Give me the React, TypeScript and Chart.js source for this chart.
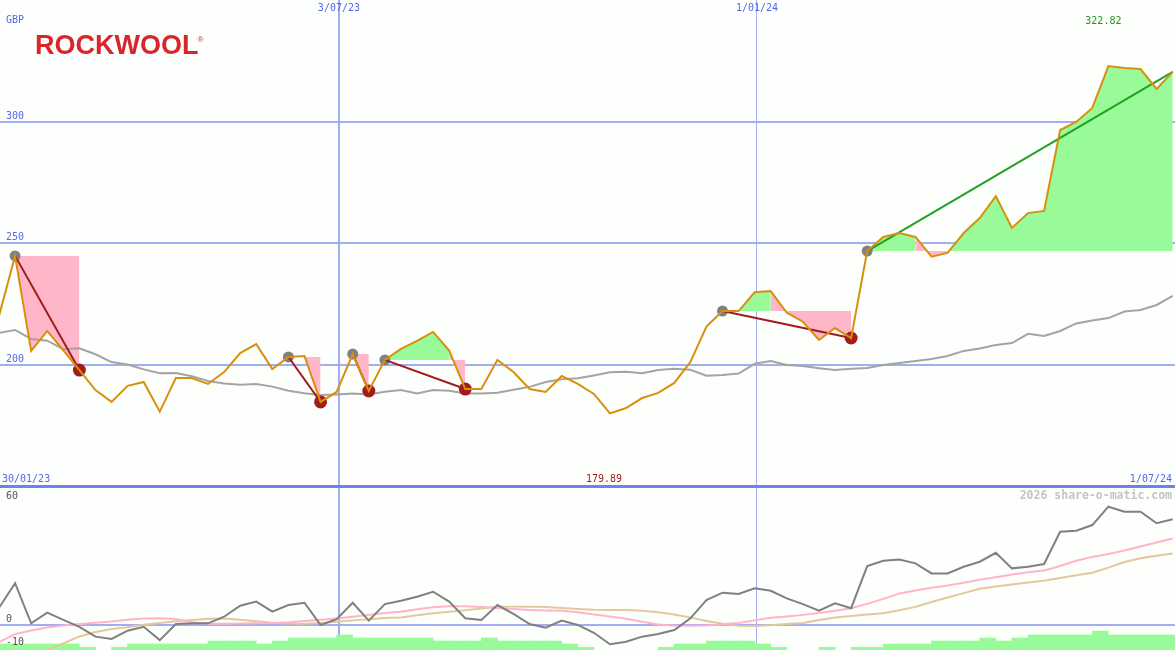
import React, { useEffect, useRef } from 'react';
import { Chart, registerables } from 'chart.js';

Chart.register(...registerables);

// ---------- data ----------
const START_LABEL = '30/01/23';
const END_LABEL = '1/07/24';
const WEEK = 7; // days between points (first point: Sun 5/02/23)

const price = [
  220.0, 244.7, 205.6, 213.8, 205.8, 197.7, 189.5, 184.6, 191.2, 192.8,
  180.6, 194.4, 194.4, 192.0, 196.9, 204.7, 208.4, 198.1, 203.1, 203.5,
  184.6, 188.7, 204.3, 189.1, 201.9, 206.4, 209.7, 213.4, 205.7, 189.9,
  189.9, 201.9, 196.9, 189.9, 188.7, 195.3, 192.0, 187.9, 179.89, 182.1,
  186.2, 188.3, 192.4, 201.0, 215.6, 222.0, 222.0, 229.7, 230.2, 221.3,
  217.6, 210.1, 215.0, 210.9, 246.7, 252.5, 254.1, 252.5, 244.4, 245.9,
  254.1, 260.3, 269.3, 256.2, 262.3, 263.2, 296.5, 299.8, 305.6, 322.82,
  322.0, 321.6, 313.4, 320.4,
];

const average = [
  213.0, 214.2, 210.5, 209.8, 206.3, 206.7, 204.2, 201.0, 200.0, 198.0,
  196.4, 196.5, 195.2, 193.2, 192.2, 191.7, 192.0, 190.9, 189.2, 188.2,
  187.4, 187.7, 188.1, 187.7, 188.8, 189.5, 188.1, 189.5, 189.2, 188.1,
  188.1, 188.4, 189.6, 190.8, 192.8, 193.9, 194.3, 195.5, 196.8, 197.0,
  196.4, 197.7, 198.3, 197.8, 195.4, 195.7, 196.3, 200.3, 201.4, 199.8,
  199.4, 198.5, 197.7, 198.3, 198.6, 199.8, 200.6, 201.4, 202.3, 203.5,
  205.6, 206.6, 208.0, 208.8, 212.6, 211.7, 213.8, 216.9, 218.1, 219.1,
  221.8, 222.4, 224.5, 228.2,
];

const momentum = [
  7.3, 18.0, 0.5, 5.2, 2.0, -1.0, -5.3, -6.3, -2.7, -1.0,
  -6.8, 0.2, 0.5, 0.5, 3.4, 8.2, 10.0, 5.6, 8.5, 9.5,
  -0.2, 2.3, 9.5, 1.7, 8.9, 10.4, 12.1, 14.3, 10.0, 2.7,
  2.0, 8.5, 4.6, 0.2, -1.4, 1.7, -0.2, -3.6, -8.6, -7.5,
  -5.3, -4.1, -2.4, 2.7, 10.7, 13.9, 13.3, 15.8, 14.7, 11.4,
  8.9, 6.0, 9.2, 7.1, 25.5, 27.8, 28.4, 26.7, 22.3, 22.3,
  25.2, 27.4, 31.3, 24.5, 25.2, 26.4, 40.5, 40.9, 43.4, 51.4,
  49.2, 49.2, 44.2, 45.9,
];

const signalFast = [
  -7.7, -4.2, -2.6, -1.3, -0.4, 0.2, 0.8, 1.3, 2.1, 2.6,
  2.7, 2.4, 1.0, 0.3, 0.3, 0.4, 0.5, 0.7, 1.0, 1.5,
  2.1, 2.6, 3.4, 4.2, 5.0, 5.6, 6.7, 7.5, 8.0, 8.0,
  7.6, 7.2, 6.8, 6.3, 6.1, 6.0, 5.3, 4.4, 3.5, 2.5,
  1.2, 0.0, -0.5, -0.5, -0.4, 0.1, 0.7, 1.8, 2.9, 3.5,
  4.2, 5.0, 6.0, 7.1, 9.0, 11.2, 13.5, 14.8, 16.0, 17.0,
  18.2, 19.5, 20.6, 21.8, 22.8, 23.6, 25.5, 27.8, 29.5, 30.8,
  32.3, 34.0, 35.8, 37.5,
];

const signalSlow = [
  null, null, -15.0, -11.0, -8.3, -5.2, -3.3, -2.0, -1.2, -0.1,
  0.7, 1.4, 2.0, 2.5, 2.6, 2.1, 1.4, 0.8, 0.4, 0.3,
  0.7, 1.2, 1.8, 2.3, 2.8, 3.1, 4.0, 4.9, 5.6, 6.2,
  7.0, 7.7, 7.8, 7.8, 7.6, 7.2, 6.8, 6.4, 6.3, 6.3,
  6.0, 5.3, 4.4, 3.1, 1.5, 0.3, -0.5, -0.7, -0.3, 0.2,
  0.7, 2.0, 3.1, 3.7, 4.4, 4.9, 6.2, 7.7, 9.8, 11.8,
  13.7, 15.6, 16.6, 17.5, 18.3, 19.1, 20.3, 21.5, 22.6, 24.8,
  27.3, 28.9, 30.0, 31.0,
];

const volume = [
  2, 2, 2, 2, 2, 0.9, 0, 0.9, 2, 2,
  2, 2, 2, 3, 3, 3, 2, 3, 4, 4,
  4, 5, 4, 4, 4, 4, 4, 3, 3, 3,
  4, 3, 3, 3, 3, 2, 0.9, 0, 0, 0,
  0, 0.9, 2, 2, 3, 3, 3, 2, 0.9, 0,
  0, 0.9, 0, 0.9, 0.9, 2, 2, 2, 3, 3,
  3, 4, 3, 4, 5, 5, 5, 5, 6.3, 5,
  5, 5, 5, 5,
];

const peaks = [1, 18, 22, 24, 45, 54];
const troughs = [5, 20, 23, 29, 53];
const trends: [number, number][] = [[1, 5], [18, 20], [22, 23], [24, 29], [45, 53], [54, 73]];

const xTickDays = [148, 330];
const xTickLabels = ['3/07/23', '1/01/24'];
const mainYTicks = [200, 250, 300];
const lowerYTicks = [60, 0, -10];
const X_MIN = 0.435;
const X_MAX = 512;

// ---------- style ----------
const BLUE_TEXT = '#5566ee';
const GRID = '#a2adf2';
const SEPARATOR = '#7080ee';
const ORANGE = '#d8900c';
const GREY_AVG = '#a4a4a4';
const DARK_RED = '#a01c1c';
const GREEN_LINE = '#22a022';
const FILL_GREEN = '#98fa98';
const FILL_PINK = '#ffb6c8';
const MONO = '"DejaVu Sans Mono", monospace';

const xs = price.map((_, i) => i * WEEK);
const toPts = (arr: (number | null)[]) =>
  arr.map((y, i) => (y == null ? null : { x: xs[i], y })).filter(Boolean) as { x: number; y: number }[];

function buildFills() {
  const out: any[] = [];
  trends.forEach(([s, e]) => {
    const level = price[s];
    let runStart = s;
    let runColor: string | null = null;
    for (let k = s; k < e; k++) {
      const c = price[k + 1] >= level ? FILL_GREEN : FILL_PINK;
      if (runColor === null) runColor = c;
      else if (c !== runColor) {
        out.push({ a: runStart, b: k, color: runColor, level });
        runStart = k;
        runColor = c;
      }
    }
    out.push({ a: runStart, b: e, color: runColor, level });
  });
  return out.map((r) => {
    const data: { x: number; y: number }[] = [];
    for (let i = r.a; i <= r.b; i++) data.push({ x: xs[i], y: price[i] });
    return {
      type: 'line',
      data,
      borderWidth: 0,
      borderColor: 'rgba(0,0,0,0)',
      backgroundColor: r.color,
      pointRadius: 0,
      tension: 0,
      fill: { value: r.level },
      order: 4,
    };
  });
}

const xScale = (ticks: number[], widths: number[]) => ({
  type: 'linear',
  min: X_MIN,
  max: X_MAX,
  offset: false,
  afterBuildTicks: (axis: any) => {
    axis.ticks = ticks.map((v) => ({ value: v }));
  },
  ticks: { display: false },
  border: { display: false },
  grid: {
    offset: false,
    drawTicks: false,
    color: GRID,
    lineWidth: (c: any) => widths[ticks.indexOf(c.tick?.value)] ?? 1,
  },
});

const mainTextPlugin = {
  id: 'mainText',
  afterDraw(chart: any) {
    const { ctx, scales } = chart;
    const x = scales.x;
    const y = scales.y;
    ctx.save();
    ctx.textBaseline = 'middle';
    ctx.font = `10px ${MONO}`;
    ctx.fillStyle = BLUE_TEXT;
    ctx.textAlign = 'left';
    ctx.fillText('GBP', 6, 20);
    mainYTicks.forEach((v) => ctx.fillText(String(v), 6, y.getPixelForValue(v) - 5.5));
    ctx.fillText(START_LABEL, 2, 479);
    ctx.textAlign = 'right';
    ctx.fillText(END_LABEL, 1172, 479);
    ctx.textAlign = 'center';
    xTickDays.forEach((d, k) => ctx.fillText(xTickLabels[k], x.getPixelForValue(d), 8));

    const maxV = Math.max(...price);
    const minV = Math.min(...price);
    const maxI = price.indexOf(maxV);
    const minI = price.indexOf(minV);
    ctx.fillStyle = '#229922';
    ctx.fillText(maxV.toFixed(2), x.getPixelForValue(xs[maxI]) - 5, 21);
    ctx.fillStyle = '#a01c1c';
    ctx.fillText(minV.toFixed(2), x.getPixelForValue(xs[minI]) - 6, 479);

    // logo
    ctx.textAlign = 'left';
    ctx.textBaseline = 'alphabetic';
    ctx.fillStyle = '#d9262c';
    ctx.font = 'bold 27px "Liberation Sans", Arial, sans-serif';
    ctx.fillText('ROCKWOOL', 35, 54);
    const w = ctx.measureText('ROCKWOOL').width;
    ctx.font = '8px "Liberation Sans", Arial, sans-serif';
    ctx.fillText('®', 34 + w, 42);
    ctx.restore();
  },
};

const lowerTextPlugin = {
  id: 'lowerText',
  afterDraw(chart: any) {
    const { ctx, scales } = chart;
    const y = scales.y;
    ctx.save();
    ctx.textBaseline = 'middle';
    ctx.font = `10px ${MONO}`;
    ctx.fillStyle = '#555555';
    ctx.textAlign = 'left';
    lowerYTicks.forEach((v) => ctx.fillText(String(v), 6, Math.max(8, y.getPixelForValue(v) - 5.5)));
    ctx.font = `bold 11.5px ${MONO}`;
    ctx.fillStyle = '#c4c4c4';
    ctx.textAlign = 'right';
    ctx.fillText('2026 share-o-matic.com', 1172, 8);
    ctx.restore();
  },
};

export default function App() {
  const mainRef = useRef<HTMLCanvasElement>(null);
  const lowerRef = useRef<HTMLCanvasElement>(null);

  useEffect(() => {
    const common = {
      responsive: false,
      animation: false,
      events: [],
      layout: { padding: 0, autoPadding: false },
      plugins: { legend: { display: false }, tooltip: { enabled: false } },
    };

    const lineDs = (data: any[], color: string, order: number, extra: any = {}) => ({
      type: 'line',
      data,
      borderColor: color,
      borderWidth: 2,
      pointRadius: 0,
      tension: 0,
      fill: false,
      order,
      ...extra,
    });

    const trendDs = trends.map(([s, e], k) =>
      lineDs(
        [{ x: xs[s], y: price[s] }, { x: xs[e], y: price[e] }],
        k === trends.length - 1 ? GREEN_LINE : DARK_RED,
        1,
      ),
    );

    const markerDs = [
      {
        type: 'line',
        data: peaks.map((i) => ({ x: xs[i], y: price[i] })),
        showLine: false,
        pointRadius: 5.5,
        pointBorderWidth: 0,
        pointBackgroundColor: '#808080',
        order: 2,
      },
      {
        type: 'line',
        data: troughs.map((i) => ({ x: xs[i], y: price[i] })),
        showLine: false,
        pointRadius: 6.5,
        pointBorderWidth: 0,
        pointBackgroundColor: '#a31c1c',
        order: 2,
      },
    ];

    const mainTicks = [150, 200, 250, 300, 350];
    const main = new Chart(mainRef.current as HTMLCanvasElement, {
      type: 'line',
      data: {
        datasets: [
          lineDs(toPts(price), ORANGE, 0),
          ...trendDs,
          ...markerDs,
          lineDs(toPts(average), GREY_AVG, 3),
          ...buildFills(),
        ] as any,
      },
      options: {
        ...common,
        scales: {
          x: xScale(xTickDays, [2, 1]),
          y: {
            type: 'linear',
            min: 350 - 488 / 2.43,
            max: 350,
            afterBuildTicks: (axis: any) => {
              axis.ticks = mainTicks.map((v) => ({ value: v }));
            },
            ticks: { display: false },
            border: { display: false },
            grid: {
              drawTicks: false,
              color: (c: any) =>
                c.tick?.value === 350 ? 'rgba(0,0,0,0)' : c.tick?.value === 150 ? SEPARATOR : GRID,
              lineWidth: (c: any) => (c.tick?.value === 150 ? 3 : 2),
            },
          },
        },
      } as any,
      plugins: [mainTextPlugin],
    });

    const zeroPx = 136.5;
    const pxPerUnit = 137.5 / 60;
    const lower = new Chart(lowerRef.current as HTMLCanvasElement, {
      type: 'line',
      data: {
        datasets: [
          lineDs(toPts(momentum), '#808080', 0),
          lineDs(toPts(signalFast), '#ffb4c8', 1),
          lineDs(toPts(signalSlow), '#e2c99a', 2),
          {
            type: 'bar',
            data: volume
              .map((v, k) => ({ x: k * WEEK + WEEK / 2, y: v }))
              .filter((p) => p.y > 0),
            backgroundColor: FILL_GREEN,
            borderWidth: 0,
            barPercentage: 1,
            categoryPercentage: 1,
            grouped: false,
            yAxisID: 'yv',
            order: 3,
          },
        ] as any,
      },
      options: {
        ...common,
        scales: {
          x: xScale(xTickDays, [2, 1]),
          y: {
            type: 'linear',
            min: -(162 - zeroPx) / pxPerUnit,
            max: zeroPx / pxPerUnit,
            afterBuildTicks: (axis: any) => {
              axis.ticks = [{ value: 0 }];
            },
            ticks: { display: false },
            border: { display: false },
            grid: { drawTicks: false, color: GRID, lineWidth: 2 },
          },
          yv: {
            type: 'linear',
            display: false,
            min: 0,
            max: 162 / 3,
          },
        },
      } as any,
      plugins: [lowerTextPlugin],
    });

    return () => {
      main.destroy();
      lower.destroy();
    };
  }, []);

  return (
    <div
      style={{
        position: 'fixed',
        left: 0,
        top: 0,
        width: 1175,
        height: 650,
        background: '#fdfffd',
        overflow: 'hidden',
      }}
    >
      <canvas ref={mainRef} width={1175} height={488} style={{ position: 'absolute', left: 0, top: 0, display: 'block' }} />
      <canvas ref={lowerRef} width={1175} height={162} style={{ position: 'absolute', left: 0, top: 488, display: 'block' }} />
    </div>
  );
}
